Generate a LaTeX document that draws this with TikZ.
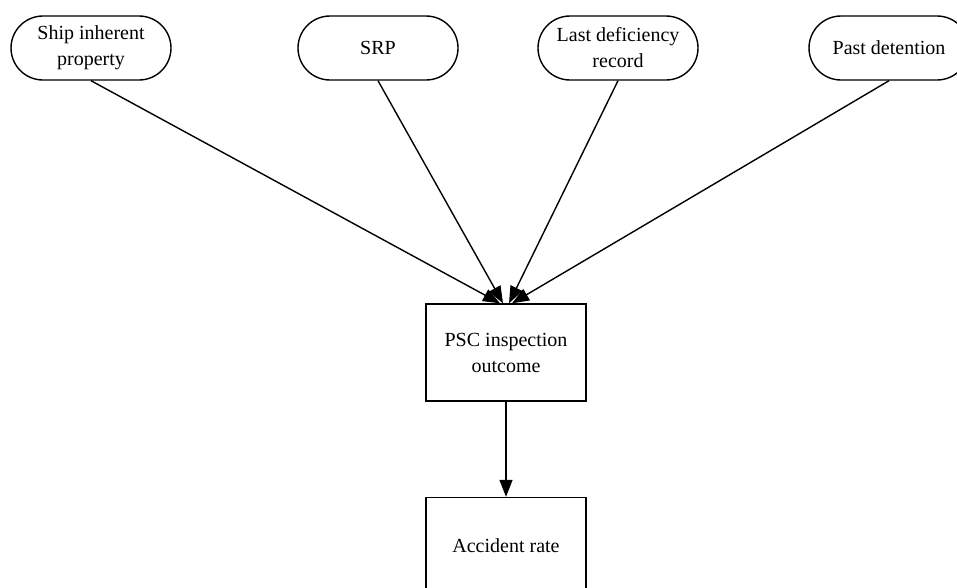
\documentclass[tikz,border=0pt]{standalone}
\usepackage{fontspec}
\setmainfont{Liberation Serif}
\usetikzlibrary{arrows.meta}
\begin{document}
\begin{tikzpicture}[x=1pt,y=-1pt,
  every node/.style={font=\fontsize{20}{26}\selectfont, align=center, inner sep=0pt},
  factor/.style={draw, line width=1.4pt, rounded corners=32pt, minimum width=160pt, minimum height=64pt},
  boxnode/.style={draw, line width=1.4pt, minimum width=160pt, minimum height=97pt},
  link/.style={line width=1.4pt, -{Triangle[length=17pt,width=13pt]}}
]
\path[use as bounding box, clip] (0,0) rectangle (957,587);
\node[factor] (ship) at (91,48) {Ship inherent\\property};
\node[factor] (srp) at (378,48) {SRP};
\node[factor] (last) at (618,48) {Last deficiency\\record};
\node[factor] (past) at (889,48) {Past detention};
\node[boxnode] (psc) at (506,352.5) {PSC inspection\\outcome};
\node[boxnode] (acc) at (506,546) {Accident rate};
\draw[link] (ship.south) -- ([xshift=-6pt]psc.north);
\draw[link] (srp.south) -- ([xshift=-3pt]psc.north);
\draw[link] (last.south) -- ([xshift=3pt]psc.north);
\draw[link] (past.south) -- ([xshift=6pt]psc.north);
\draw[link] (psc.south) -- (acc.north);
\end{tikzpicture}
\end{document}
